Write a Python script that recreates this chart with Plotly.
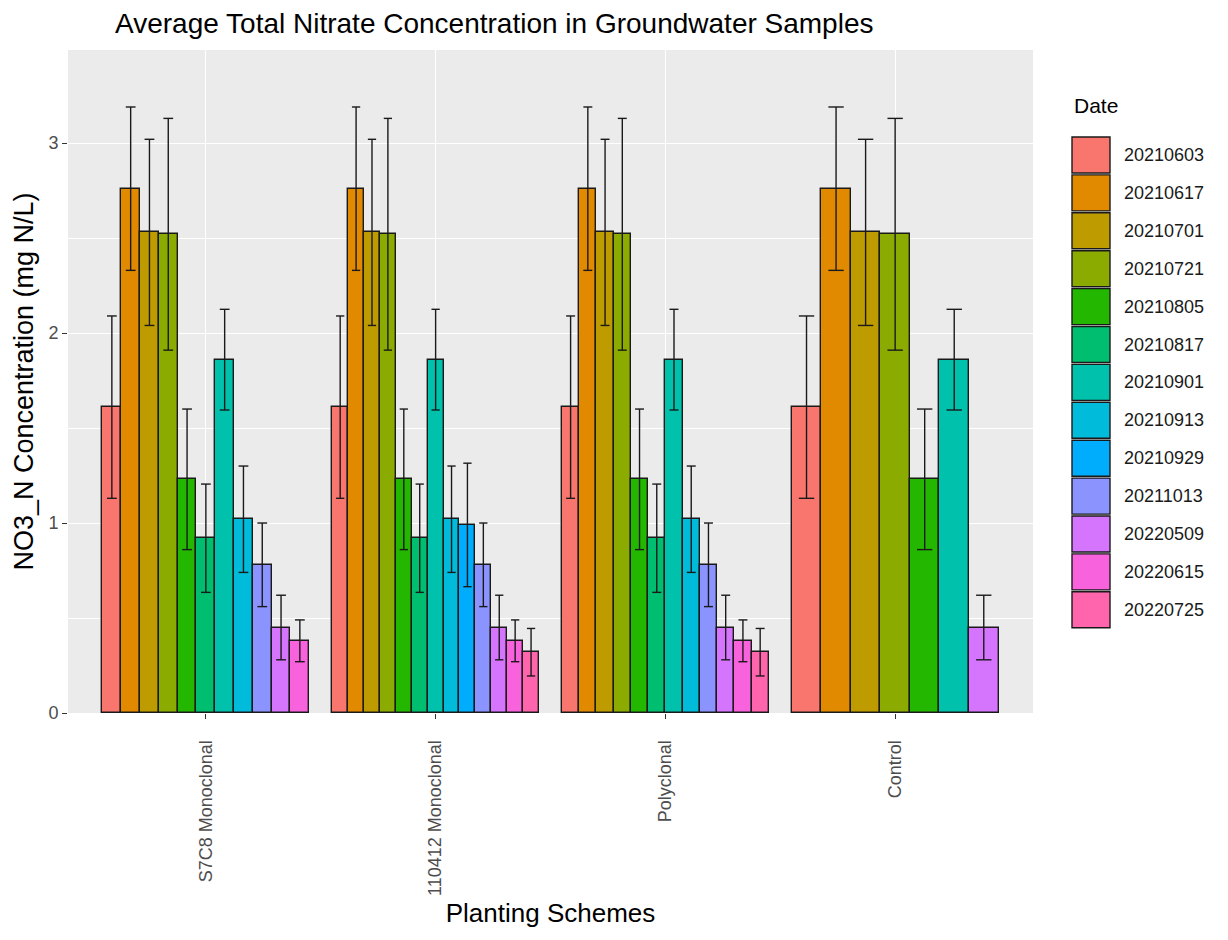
import plotly.graph_objects as go

# ---------------- data ----------------
dates = ["20210603", "20210617", "20210701", "20210721", "20210805", "20210817",
         "20210901", "20210913", "20210929", "20211013", "20220509", "20220615", "20220725"]
colors = ["#F8766D", "#E18A00", "#BE9C00", "#8CAB00", "#24B700", "#00BE70",
          "#00C1AB", "#00BBDA", "#00ACFC", "#8B93FF", "#D575FE", "#F962DD", "#FF65AC"]
schemes = ["S7C8 Monoclonal", "110412 Monoclonal", "Polyclonal", "Control"]

# mean NO3_N (mg N/L) per date, None = no sample for that scheme
s7c8_mean = [1.61, 2.76, 2.53, 2.52, 1.23, 0.92, 1.86, 1.02, None, 0.78, 0.45, 0.38, None]
m110412_mean = [1.61, 2.76, 2.53, 2.52, 1.23, 0.92, 1.86, 1.02, 0.99, 0.78, 0.45, 0.38, 0.32]
poly_mean = [1.61, 2.76, 2.53, 2.52, 1.23, 0.92, 1.86, 1.02, None, 0.78, 0.45, 0.38, 0.32]
control_mean = [1.61, 2.76, 2.53, 2.52, 1.23, None, 1.86, None, None, None, 0.45, None, None]

# error (+/-) per date
err = [0.48, 0.43, 0.49, 0.61, 0.37, 0.285, 0.265, 0.28, 0.325, 0.22, 0.17, 0.11, 0.125]

means = [s7c8_mean, m110412_mean, poly_mean, control_mean]

# ---------------- layout constants ----------------
W, H = 1228, 940
PL, PR, PT, PB = 68, 1033, 50, 713   # panel edges in px
FONT = "Liberation Sans, Arial, sans-serif"
DODGE = 0.9

fig = go.Figure()

# dodged positions (like ggplot position_dodge with varying group sizes)
bar_x = {d: [] for d in range(len(dates))}
bar_y = {d: [] for d in range(len(dates))}
bar_w = {d: [] for d in range(len(dates))}
ex, ey = [], []
for si, m in enumerate(means):
    present = [i for i, v in enumerate(m) if v is not None]
    n = len(present)
    bw = DODGE / n
    for k, di in enumerate(present):
        xc = (si + 1) - DODGE / 2 + (k + 0.5) * bw
        bar_x[di].append(xc)
        bar_y[di].append(m[di])
        bar_w[di].append(bw)
        lo, hi = m[di] - err[di], m[di] + err[di]
        cap = bw * 0.26
        ex += [xc, xc, None, xc - cap, xc + cap, None, xc - cap, xc + cap, None]
        ey += [lo, hi, None, hi, hi, None, lo, lo, None]

for di, d in enumerate(dates):
    if not bar_x[di]:
        continue
    fig.add_trace(go.Bar(
        x=bar_x[di], y=bar_y[di], width=bar_w[di], name=d,
        marker=dict(color=colors[di], line=dict(color="#1a1a1a", width=1.4)),
        showlegend=False,
    ))

fig.add_trace(go.Scatter(
    x=ex, y=ey, mode="lines", line=dict(color="#1a1a1a", width=1.4),
    hoverinfo="skip", showlegend=False,
))

# ---------------- custom ggplot-style legend ----------------
def px_x(p):
    return (p - PL) / (PR - PL)

def px_y(p):
    return (PB - p) / (PB - PT)

shapes = []
annotations = []
key_left, key_size, key_top0, key_step = 1072, 38, 136, 37.9
annotations.append(dict(
    x=px_x(1072), y=px_y(105), xref="paper", yref="paper", text="Date",
    showarrow=False, xanchor="left", yanchor="middle",
    font=dict(family=FONT, size=21, color="#000000")))
for di, d in enumerate(dates):
    top = key_top0 + di * key_step
    shapes.append(dict(
        type="rect", xref="paper", yref="paper",
        x0=px_x(key_left), x1=px_x(key_left + key_size),
        y0=px_y(top + key_size - 1), y1=px_y(top + 1),
        fillcolor=colors[di], line=dict(color="#1a1a1a", width=1.4)))
    annotations.append(dict(
        x=px_x(key_left + key_size + 12), y=px_y(top + key_size / 2), xref="paper", yref="paper",
        text=d, showarrow=False, xanchor="left", yanchor="middle",
        font=dict(family=FONT, size=18, color="#1a1a1a")))

fig.update_layout(
    width=W, height=H,
    margin=dict(l=PL, r=W - PR, t=PT, b=H - PB, autoexpand=False),
    paper_bgcolor="white", plot_bgcolor="#EBEBEB",
    barmode="overlay", bargap=0,
    showlegend=False,
    title=dict(text="Average Total Nitrate Concentration in Groundwater Samples",
               x=115 / W, xanchor="left", y=1 - 23 / H, yanchor="middle",
               font=dict(family=FONT, size=28, color="#000000")),
    font=dict(family=FONT),
    shapes=shapes, annotations=annotations,
    xaxis=dict(
        range=[0.4, 4.6], tickmode="array", tickvals=[1, 2, 3, 4], ticktext=schemes,
        tickangle=-90, showgrid=True, gridcolor="white", gridwidth=1.4, zeroline=False,
        ticks="outside", ticklen=5, tickcolor="#333333", tickwidth=1,
        ticklabelstandoff=14,
        tickfont=dict(family=FONT, size=18, color="#4D4D4D"),
        title=dict(text="Planting Schemes", font=dict(family=FONT, size=26, color="#000000"),
                   standoff=8),
        showline=False, automargin=False,
    ),
    yaxis=dict(
        range=[0, 3.49], tickmode="linear", tick0=0, dtick=1,
        showgrid=True, gridcolor="white", gridwidth=1.4, zeroline=False,
        minor=dict(dtick=0.5, showgrid=True, gridcolor="white", gridwidth=0.7),
        ticks="outside", ticklen=5, tickcolor="#333333", tickwidth=1,
        tickfont=dict(family=FONT, size=18, color="#4D4D4D"),
        title=dict(text="NO3_N Concentration (mg N/L)",
                   font=dict(family=FONT, size=27, color="#000000"), standoff=6),
        showline=False, automargin=False,
    ),
)

fig.write_html("out.html")
